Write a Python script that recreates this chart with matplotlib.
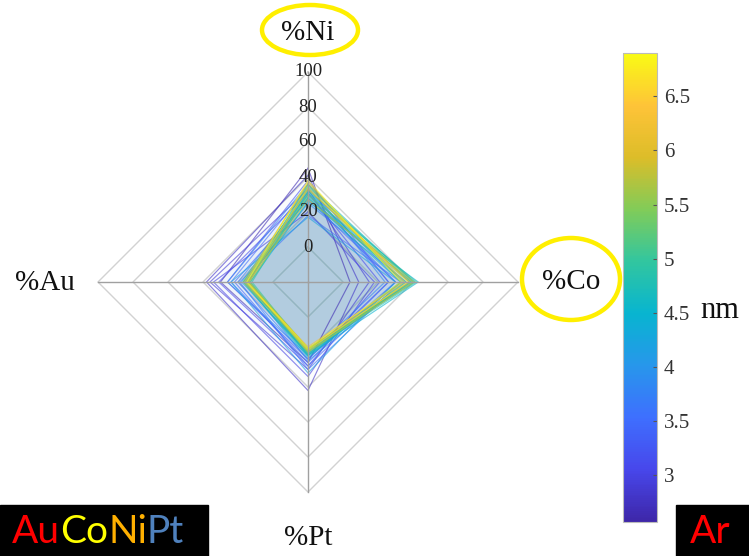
import numpy as np
import matplotlib
matplotlib.use("Agg")
import matplotlib.pyplot as plt
from matplotlib.colors import LinearSegmentedColormap, Normalize
from matplotlib.cm import ScalarMappable
from matplotlib.patches import Ellipse, Rectangle

# ---- composition data (at.%) and particle size (nm) ----
axes_labels = ["%Ni", "%Co", "%Pt", "%Au"]
axes_angles_deg = [90, 0, 270, 180]
radial_ticks = [0, 20, 40, 60, 80, 100]
radial_min = -20

size_nm = [2.65, 2.8, 2.9, 3.0, 3.1, 3.2,
           3.4, 3.5, 3.6, 3.7, 3.8, 3.9, 4.0, 4.1, 4.2,
           4.3, 4.4, 4.5, 4.6, 4.7, 4.8, 4.9,
           5.0, 5.1, 5.2, 5.4, 5.6, 5.8,
           6.0, 6.3, 6.6, 6.85]
ni = [45, 41, 33, 20, 31, 38,
      27, 34, 18, 30, 36, 25, 32, 28, 17,
      30, 34, 26, 31, 36, 28, 32,
      35, 29, 33, 30, 36, 27,
      33, 37, 34, 38]
co = [4, 9, 15, 18, 21, 26,
      30, 26, 33, 30, 24, 36, 33, 38, 30,
      39, 41, 43, 35, 40, 33, 42,
      39, 36, 38, 41, 34, 40,
      38, 35, 37, 33]
pt = [26, 42, 30, 34, 28, 24,
      28, 26, 30, 24, 22, 25, 21, 22, 32,
      21, 19, 22, 23, 18, 22, 20,
      19, 21, 20, 18, 19, 20,
      18, 17, 19, 18]
au = [30, 38, 36, 34, 31, 26,
      22, 24, 19, 20, 26, 16, 18, 15, 24,
      16, 14, 13, 17, 14, 17, 12,
      14, 15, 16, 13, 17, 14,
      14, 16, 15, 15]

cbar_range = (2.57, 6.9)
cbar_ticks = [3, 3.5, 4, 4.5, 5, 5.5, 6, 6.5]

# parula-like colormap
parula_pts = [
    (0.2422, 0.1504, 0.6603), (0.2803, 0.2782, 0.9221), (0.2440, 0.4358, 0.9988),
    (0.1540, 0.5902, 0.9218), (0.0297, 0.7082, 0.8163), (0.1938, 0.7758, 0.6251),
    (0.5044, 0.7993, 0.3480), (0.8634, 0.7406, 0.1596), (0.9970, 0.7659, 0.2199),
    (0.9769, 0.9839, 0.0805)]
parula = LinearSegmentedColormap.from_list("parula", parula_pts, N=256)
norm = Normalize(*cbar_range)

serif = ["Liberation Serif", "DejaVu Serif"]
sans = ["Lato", "DejaVu Sans"]

fig = plt.figure(figsize=(7.49, 5.56), dpi=100)
W, H = 749, 556

def fx(px):
    return px / W

def fy(py):
    return 1 - py / H

# spider axes: centre (308, 282) px, outer radius 210 px
cx, cy, R = 308, 282, 210
ax = fig.add_axes([fx(cx - R), fy(cy + R), 2 * R / W, 2 * R / H])
rmax = radial_ticks[-1] - radial_min
ax.set_xlim(-rmax, rmax)
ax.set_ylim(-rmax, rmax)
ax.set_aspect("equal")
ax.axis("off")

th = np.deg2rad(axes_angles_deg)
th_closed = np.append(th, th[0])

# polygonal grid
for t in radial_ticks:
    r = t - radial_min
    ax.plot(r * np.cos(th_closed), r * np.sin(th_closed), color="#d2d2d2",
            lw=1.0, zorder=1, clip_on=False)
for a in th:
    ax.plot([0, rmax * np.cos(a)], [0, rmax * np.sin(a)], color="#a0a0a0",
            lw=1.0, zorder=4, clip_on=False)

# one polygon per sample
for s, vals in zip(size_nm, zip(ni, co, pt, au)):
    r = np.append(np.array(vals, float), vals[0]) - radial_min
    x = r * np.cos(th_closed)
    y = r * np.sin(th_closed)
    ax.fill(x, y, color=(0.18, 0.52, 0.78), alpha=0.013, lw=0, zorder=2)
    ax.plot(x, y, color=parula(norm(s)), lw=0.85, alpha=0.6, zorder=3,
            clip_on=False)

# radial tick labels along the Ni spoke
for t in radial_ticks:
    r = t - radial_min
    ax.text(0, r, str(t), ha="center", va="center", fontsize=13.5,
            family=serif, color="#222222", zorder=6)

# axis titles
label_pos = {"%Ni": (308, 33), "%Co": (571, 282), "%Pt": (308, 538),
             "%Au": (45, 283)}
for lab in axes_labels:
    px, py = label_pos[lab]
    fig.text(fx(px), fy(py), lab, ha="center", va="center", fontsize=21,
             family=serif, color="#111111")

# highlight rings
for (ex, ey, ew, eh) in [(310, 30, 96, 50), (571, 279, 98, 82)]:
    fig.add_artist(Ellipse((fx(ex), fy(ey)), ew / W, eh / H,
                           transform=fig.transFigure, fill=False,
                           edgecolor="#ffef00", lw=3.2))

# colorbar
cax = fig.add_axes([fx(623), fy(522), 34 / W, (522 - 53) / H])
sm = ScalarMappable(norm=norm, cmap=parula)
cb = fig.colorbar(sm, cax=cax, ticks=cbar_ticks)
cb.ax.set_yticklabels([f"{v:g}" for v in cbar_ticks], family=serif,
                      fontsize=15, color="#333333")
cb.ax.tick_params(direction="in", length=3, width=0.8, color="#555555",
                  pad=5)
cb.outline.set_edgecolor("#bbbbbb")
cb.outline.set_linewidth(0.8)
fig.text(fx(700), fy(310), "nm", ha="left", va="center", fontsize=22,
         family=serif, color="#111111")

# title boxes along the bottom edge
box_h = (H - 505) / H
fig.add_artist(Rectangle((0, 0), fx(208), box_h, color="black",
                         transform=fig.transFigure))
fig.add_artist(Rectangle((fx(676), 0), 1 - fx(676), box_h,
                         color="black", transform=fig.transFigure))
parts = [("Au", "red"), ("Co", "#ffff00"), ("Ni", "#ffb000"),
         ("Pt", "#4f81bd")]
fig.canvas.draw()
renderer = fig.canvas.get_renderer()
xpos = 12
for txt, col in parts:
    t = fig.text(fx(xpos), fy(543), txt, ha="left", va="baseline",
                 fontsize=28, family=sans, color=col)
    bb = t.get_window_extent(renderer)
    xpos += bb.width
fig.text(fx(690), fy(543), "Ar", ha="left", va="baseline", fontsize=28,
         family=sans, color="red")

fig.savefig("out.png", dpi=100)
